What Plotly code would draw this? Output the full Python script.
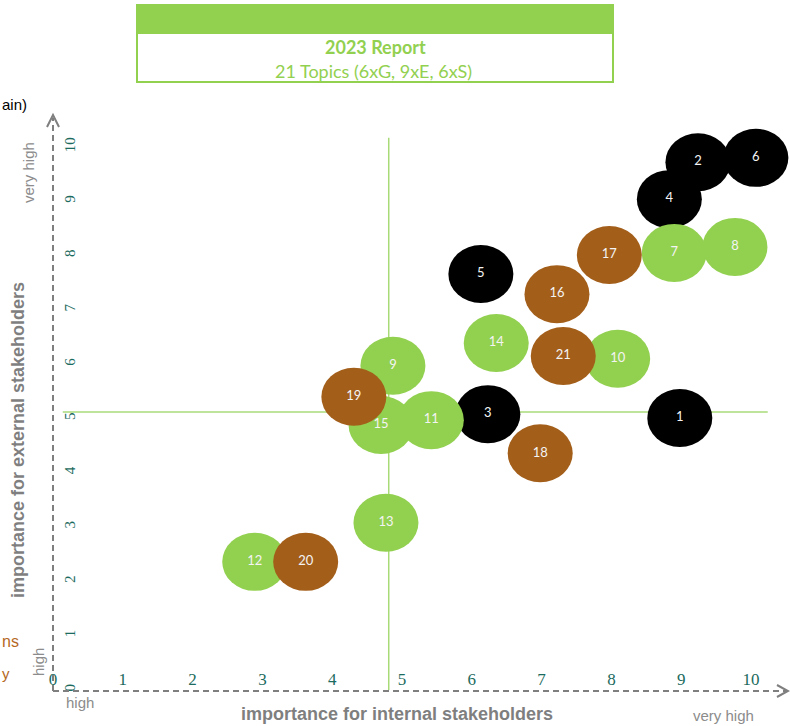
import plotly.graph_objects as go

# ---------------- data ----------------
topics = [1, 2, 3, 4, 5, 6, 7, 8, 9, 10, 11, 12, 13, 14, 15, 16, 17, 18, 19, 20, 21]
categories = ["G", "G", "G", "G", "G", "G",
              "E", "E", "E", "E", "E", "E", "E", "E", "E",
              "S", "S", "S", "S", "S", "S"]
internal_importance = [8.98, 9.24, 6.23, 8.83, 6.13, 10.07, 8.90, 9.77, 4.87, 8.09, 5.42,
                       2.89, 4.77, 6.35, 4.70, 7.22, 7.97, 6.98, 4.31, 3.62, 7.31]
external_importance = [5.01, 9.72, 5.08, 9.04, 7.66, 9.80, 8.05, 8.16, 5.97, 6.10, 4.97,
                       2.36, 3.08, 6.39, 4.88, 7.29, 8.01, 4.36, 5.40, 2.36, 6.15]
tick_values = [0, 1, 2, 3, 4, 5, 6, 7, 8, 9, 10]
tick_labels = ["0", "1", "2", "3", "4", "5", "6", "7", "8", "9", "10"]
mid_internal = 4.81   # threshold cross lines as drawn in the picture
mid_external = 5.12

# ---------------- styles ----------------
W, H = 790, 726
ORIGIN_X_PX, ORIGIN_Y_PX = 53, 690
PX_PER_X, PX_PER_Y = 69.8, 54.3
BUBBLE_RX_PX, BUBBLE_RY_PX = 32.5, 29.0
COLORS = {"G": "#000000", "E": "#92D050", "S": "#A35E1A"}
GREEN = "#92D050"
GRAY = "#7F7F7F"
LIGHTGRAY = "#8C8C8C"
TEAL = "#1B6B5E"


def pxx(px):
    return px / W


def pxy(py):
    return 1 - py / H


x_range = [-ORIGIN_X_PX / PX_PER_X, (W - ORIGIN_X_PX) / PX_PER_X]
y_range = [-(H - ORIGIN_Y_PX) / PX_PER_Y, ORIGIN_Y_PX / PX_PER_Y]
rx = BUBBLE_RX_PX / PX_PER_X
ry = BUBBLE_RY_PX / PX_PER_Y

fig = go.Figure()

shapes = []
# threshold cross lines (drawn below the bubbles)
shapes.append(dict(type="line", xref="x", yref="y", layer="below",
                   x0=mid_internal, x1=mid_internal, y0=0, y1=10.17,
                   line=dict(color="#A9DA78", width=1.5)))
shapes.append(dict(type="line", xref="x", yref="y", layer="below",
                   x0=0.14, x1=10.24, y0=mid_external, y1=mid_external,
                   line=dict(color="#A9DA78", width=1.5)))

# bubbles (ellipses through the data axes)
for t, c, xv, yv in zip(topics, categories, internal_importance, external_importance):
    shapes.append(dict(type="circle", xref="x", yref="y", layer="below",
                       x0=xv - rx, x1=xv + rx, y0=yv - ry, y1=yv + ry,
                       fillcolor=COLORS[c], line=dict(width=0)))

# dashed axis arrows
shapes.append(dict(type="line", xref="paper", yref="paper",
                   x0=pxx(53), x1=pxx(786), y0=pxy(691), y1=pxy(691),
                   line=dict(color=GRAY, width=2, dash="6px,4px")))
shapes.append(dict(type="path", xref="paper", yref="paper",
                   path=f"M {pxx(777)} {pxy(685)} L {pxx(788)} {pxy(691)} L {pxx(777)} {pxy(697)}",
                   line=dict(color=GRAY, width=2)))
shapes.append(dict(type="line", xref="paper", yref="paper",
                   x0=pxx(53), x1=pxx(53), y0=pxy(691), y1=pxy(118),
                   line=dict(color=GRAY, width=2, dash="6px,4px")))
shapes.append(dict(type="path", xref="paper", yref="paper",
                   path=f"M {pxx(47)} {pxy(127)} L {pxx(53)} {pxy(115)} L {pxx(59)} {pxy(127)}",
                   line=dict(color=GRAY, width=2)))

# header box
shapes.append(dict(type="rect", xref="paper", yref="paper",
                   x0=pxx(136), x1=pxx(614), y0=pxy(4), y1=pxy(33),
                   fillcolor=GREEN, line=dict(width=0)))
shapes.append(dict(type="rect", xref="paper", yref="paper",
                   x0=pxx(137), x1=pxx(613), y0=pxy(33), y1=pxy(82),
                   fillcolor="white", line=dict(color=GREEN, width=2)))

# topic numbers
fig.add_trace(go.Scatter(
    x=internal_importance, y=external_importance, mode="text",
    text=[str(t) for t in topics],
    textposition="middle center",
    textfont=dict(family="Lato", size=13, color="#F4F4F4"),
    hoverinfo="skip", showlegend=False,
))

annotations = [
    dict(text="<b>2023 Report</b>", x=pxx(375), y=pxy(47),
         font=dict(family="Lato", size=18, color=GREEN)),
    dict(text="21 Topics (6xG, 9xE, 6xS)", x=pxx(373), y=pxy(71),
         font=dict(family="Lato", size=18, color=GREEN)),
    dict(text="<b>importance for internal stakeholders</b>", x=pxx(397), y=pxy(714),
         font=dict(family="Liberation Sans", size=18, color=GRAY)),
    dict(text="<b>importance for external stakeholders</b>", x=pxx(18), y=pxy(440),
         textangle=-90, font=dict(family="Liberation Sans", size=18, color=GRAY)),
    dict(text="very high", x=pxx(28), y=pxy(173), textangle=-90,
         font=dict(family="Liberation Sans", size=15, color=LIGHTGRAY)),
    dict(text="high", x=pxx(38), y=pxy(662), textangle=-90,
         font=dict(family="Liberation Sans", size=15, color=LIGHTGRAY)),
    dict(text="high", x=pxx(80), y=pxy(702),
         font=dict(family="Liberation Sans", size=15, color=LIGHTGRAY)),
    dict(text="very high", x=pxx(723), y=pxy(715),
         font=dict(family="Liberation Sans", size=15, color=LIGHTGRAY)),
    dict(text="ain)", x=0, y=pxy(105), xanchor="left",
         font=dict(family="Liberation Sans", size=15, color="#000000")),
    dict(text="ns", x=0, y=pxy(641), xanchor="left",
         font=dict(family="Liberation Sans", size=16, color="#B5691F")),
    dict(text="y", x=0, y=pxy(673), xanchor="left",
         font=dict(family="Liberation Sans", size=15, color="#B5691F")),
]
for a in annotations:
    a.setdefault("xref", "paper")
    a.setdefault("yref", "paper")
    a.setdefault("showarrow", False)
    a.setdefault("xanchor", "center")
    a.setdefault("yanchor", "middle")

fig.update_layout(
    width=W, height=H,
    margin=dict(l=0, r=0, t=0, b=0),
    paper_bgcolor="white", plot_bgcolor="white",
    shapes=shapes, annotations=annotations,
    showlegend=False,
    xaxis=dict(range=x_range, domain=[0, 1], anchor="free", position=(H - ORIGIN_Y_PX) / H,
               side="top", tickvals=tick_values, ticktext=tick_labels,
               tickfont=dict(family="Liberation Serif", size=17, color=TEAL),
               ticklabelstandoff=2,
               showgrid=False, zeroline=False, showline=False, ticks="",
               automargin=False, fixedrange=True),
    yaxis=dict(range=y_range, domain=[0, 1], anchor="free", position=ORIGIN_X_PX / W,
               side="right", tickvals=tick_values, ticktext=tick_labels, tickangle=-90,
               tickfont=dict(family="Liberation Serif", size=15, color=TEAL),
               ticklabelstandoff=6,
               showgrid=False, zeroline=False, showline=False, ticks="",
               automargin=False, fixedrange=True),
)

fig.write_html("out.html",
               config={"displayModeBar": False, "staticPlot": True},
               post_script="document.body.style.margin='0';document.body.style.overflow='hidden';")
